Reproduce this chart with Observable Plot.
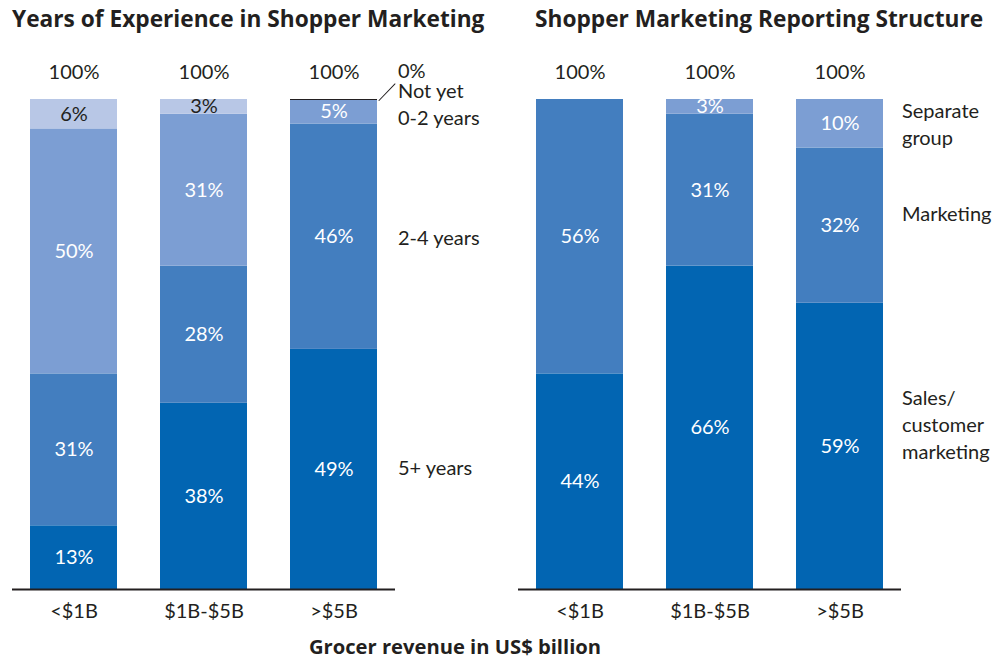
<!DOCTYPE html>
<html><head><meta charset="utf-8">
<script src="https://cdn.jsdelivr.net/npm/d3@7"></script>
<script src="https://cdn.jsdelivr.net/npm/@observablehq/plot@0.6"></script>
<style>
body{margin:0;background:#fff;font-family:Lato,sans-serif;color:#231f20}
#wrap{position:relative;width:1008px;height:659px;overflow:hidden}
.panel{position:absolute;top:0}
.title{position:absolute;top:3px;font-family:"Open Sans",sans-serif;font-weight:700;font-size:22.7px;white-space:nowrap;z-index:2}
.caption{position:absolute;top:632px;left:0;width:910px;text-align:center;font-family:"Open Sans",sans-serif;font-weight:700;font-size:20.2px;z-index:2}
</style></head><body>
<div id="wrap">
  <div class="title" style="left:12px">Years of Experience in Shopper Marketing</div>
  <div class="title" style="left:535px">Shopper Marketing Reporting Structure</div>
  <div id="left" class="panel" style="left:0"></div>
  <div id="right" class="panel" style="left:506px"></div>
  <div class="caption">Grocer revenue in US$ billion</div>
</div>
<script>
// ---- data ----
const categories = ["<$1B", "$1B-$5B", ">$5B"];

const expSeries = ["5+ years", "2-4 years", "0-2 years", "Not yet"];
const exp5Plus = [13, 38, 49];
const exp2to4 = [31, 28, 46];
const exp0to2 = [50, 31, 5];
const expNotYet = [6, 3, 0];
const expTotals = [100, 100, 100];

const repSeries = ["Sales/\ncustomer\nmarketing", "Marketing", "Separate\ngroup"];
const repSales = [44, 66, 59];
const repMarketing = [56, 31, 32];
const repSeparate = [0, 3, 10];
const repTotals = [100, 100, 100];

// ---- styles ----
const DARK = "#0265b2", MED = "#437ebf", LIGHT = "#7c9ed3", LIGHTEST = "#b8c7e6";
const TEXT = "#231f20";
const FS = 20;

function rowsOf(series, valueArrays) {
  const rows = [];
  series.forEach((s, i) => categories.forEach((c, j) => rows.push({cat: c, series: s, value: valueArrays[i][j]})));
  return rows;
}
const expRows = rowsOf(expSeries, [exp5Plus, exp2to4, exp0to2, expNotYet]);
const repRows = rowsOf(repSeries, [repSales, repMarketing, repSeparate]);

function panel({rows, series, colors, darkText, totals, width, marginRight, legend, legendDx, extra = []}) {
  const last = categories[categories.length - 1];
  const lastRows = rows.filter(d => d.cat === last);
  const stk = (o) => Plot.stackY({x: "cat", y: "value", z: "series", offset: "normalize", ...o});
  return Plot.plot({
    width, height: 659,
    marginLeft: 12, marginRight, marginTop: 99, marginBottom: 70,
    x: {domain: categories, paddingInner: 1/3, paddingOuter: 0.134},
    y: {domain: [0, 1], axis: null},
    color: {domain: series, range: colors},
    style: {fontFamily: "Lato, sans-serif", fontSize: FS + "px", color: TEXT, background: "transparent"},
    marks: [
      Plot.barY(rows, stk({fill: "series"})),
      Plot.text(rows.filter(d => d.value > 0), stk({
        text: d => d.value + "%",
        fill: d => darkText.includes(d.series) ? TEXT : "white",
        fontSize: FS
      })),
      Plot.text(categories, {x: d => d, y: () => 1, text: (d, i) => totals[i] + "%", dy: -27, fill: TEXT, fontSize: FS}),
      ...legend.map(({name, dy}) =>
        Plot.text(lastRows, stk({
          text: d => d.series === name ? d.series : null,
          dx: legendDx, dy, textAnchor: "start", fill: TEXT, fontSize: FS, lineHeight: 1.35
        }))
      ),
      ...extra,
      Plot.ruleY([0], {stroke: TEXT, strokeWidth: 2}),
      Plot.axisX({tickSize: 0, tickPadding: 14, fontSize: FS, label: null, fill: TEXT})
    ]
  });
}

const leaderShape = {draw(ctx, l) { ctx.moveTo(0, 0); ctx.lineTo(0, -l); }};
const notYetRow = expRows.filter(d => d.cat === ">$5B" && d.series === "Not yet");

document.getElementById("left").append(panel({
  rows: expRows, series: expSeries, colors: [DARK, MED, LIGHT, LIGHTEST],
  darkText: ["Not yet"], totals: expTotals, width: 504, marginRight: 109, legendDx: 64,
  legend: [
    {name: "5+ years", dy: -3},
    {name: "2-4 years", dy: 0},
    {name: "0-2 years", dy: 5}
  ],
  extra: [
    Plot.tickY(notYetRow, {x: "cat", y: () => 1, stroke: TEXT, strokeWidth: 1.2}),
    Plot.vector(notYetRow, {
      x: "cat", y: () => 1, dx: 45, dy: 1, length: 23, rotate: 44, anchor: "start",
      shape: leaderShape, stroke: TEXT, strokeWidth: 1
    }),
    Plot.text(notYetRow, {
      x: "cat", y: () => 1, text: d => d.series, dx: 64, dy: -8,
      textAnchor: "start", fill: TEXT, fontSize: FS
    }),
    Plot.text(notYetRow, {
      x: "cat", y: () => 1, text: d => d.value + "%", dx: 64, dy: -28,
      textAnchor: "start", fill: TEXT, fontSize: FS
    })
  ]
}));

document.getElementById("right").append(panel({
  rows: repRows, series: repSeries, colors: [DARK, MED, LIGHT],
  darkText: [], totals: repTotals, width: 502, marginRight: 107, legendDx: 62,
  legend: [
    {name: repSeries[0], dy: -23},
    {name: repSeries[1], dy: -13},
    {name: repSeries[2], dy: -1}
  ]
}));
</script>
</body></html>
